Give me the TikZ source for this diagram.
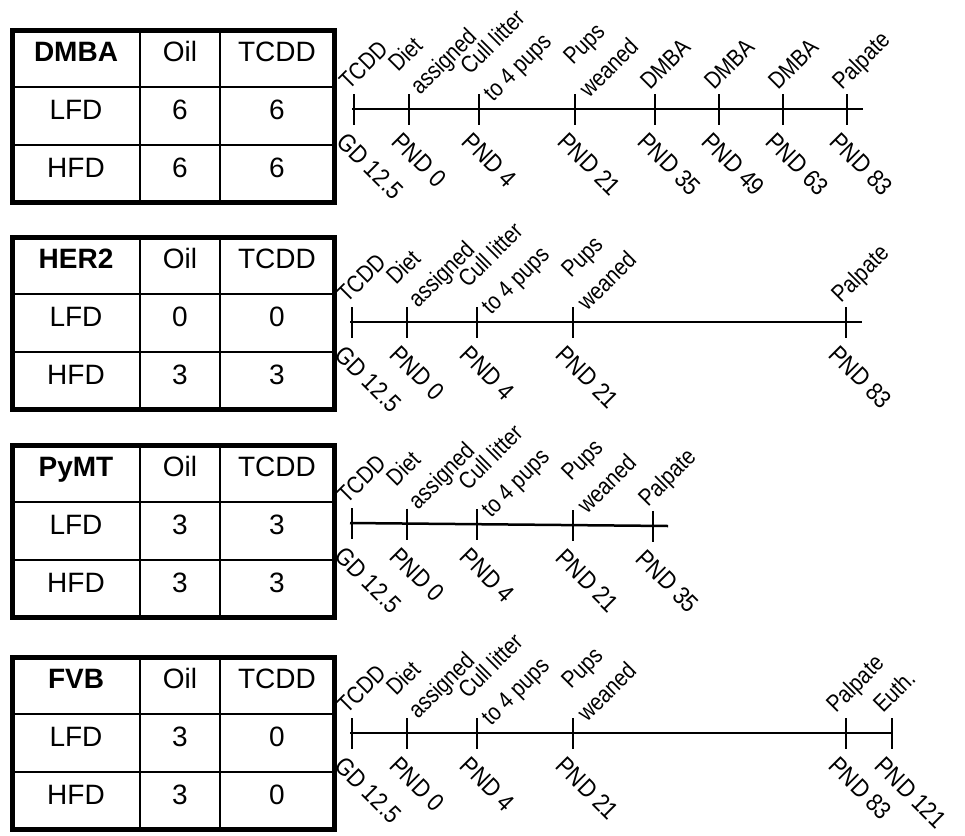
\documentclass[tikz,border=0pt]{standalone}
\usepackage{fontspec}
\setmainfont{Liberation Sans}
\newfontfamily\tabfont{Liberation Sans}
\newfontfamily\labfont{Liberation Sans}[FakeStretch=0.85]
\newfontfamily\dlabfont{Liberation Sans}[FakeStretch=0.87]
\tikzset{
  cell/.style={font=\tabfont\fontsize{28}{32}\selectfont, inner sep=0pt, text height=0.72em, text depth=0pt, anchor=center},
  hdr/.style={cell, font=\tabfont\fontsize{28}{32}\selectfont\bfseries},
  outerline/.style={line width=5pt},
  innerline/.style={line width=2pt},
  tl/.style={line width=2.5pt},
  uplab/.style={font=\labfont\fontsize{24}{28}\selectfont, rotate=45, anchor=base west, inner sep=0pt},
  dnlab/.style={font=\dlabfont\fontsize{25}{29}\selectfont, rotate=-45, anchor=north west, inner sep=0pt},
}
% table: prefix, top y, title, LFD oil, LFD tcdd, HFD oil, HFD tcdd
\newcommand{\stable}[7]{%
  \begin{scope}[shift={(0,#2)}]
    \draw[innerline] (140,0) -- (140,172) (220,0) -- (220,172)
                     (12,57) -- (334,57) (12,115) -- (334,115);
    \draw[outerline] (12,0) rectangle (334,172);
    \node[hdr] (#1-t) at (76,28) {#3};
    \node[cell] (#1-oil) at (180,28) {Oil};
    \node[cell] (#1-tcdd) at (277,28) {TCDD};
    \node[cell] (#1-lfd) at (76,86) {LFD};
    \node[cell] (#1-lo) at (180,86) {#4};
    \node[cell] (#1-lt) at (277,86) {#5};
    \node[cell] (#1-hfd) at (76,144) {HFD};
    \node[cell] (#1-ho) at (180,144) {#6};
    \node[cell] (#1-ht) at (277,144) {#7};
  \end{scope}}
% tick: name, x, y, below label
\newcommand{\stick}[4]{%
  \coordinate (#1) at (#2,#3);
  \draw[tl] ([yshift=15pt]#1) -- ([yshift=-16pt]#1);
  \node[dnlab] (#1-b) at ([xshift=-6pt,yshift=-22pt]#1) {#4};}
% single label above
\newcommand{\sone}[2]{\node[uplab] (#1-a) at ([xshift=-5pt,yshift=18pt]#1) {#2};}
% early labels for a panel
\newcommand{\searly}[1]{%
  \node[uplab] (#1a-a) at ([xshift=-5pt,yshift=18pt]#1a) {TCDD};
  \node[uplab] (#1b-a1) at ([xshift=-11pt,yshift=36pt]#1b) {Diet};
  \node[uplab] (#1b-a2) at ([xshift=11pt,yshift=13pt]#1b) {assigned};
  \node[uplab] (#1c-a1) at ([xshift=-9pt,yshift=33pt]#1c) {Cull litter};
  \node[uplab] (#1c-a2) at ([xshift=14pt,yshift=6pt]#1c) {to 4 pups};
  \node[uplab] (#1d-a1) at ([xshift=-2pt,yshift=43pt]#1d) {Pups};
  \node[uplab] (#1d-a2) at ([xshift=14pt,yshift=10pt]#1d) {weaned};}
\begin{document}
\begin{tikzpicture}[x=1pt,y=-1pt]
\useasboundingbox (0,0) rectangle (965,835);
\stable{A}{30}{DMBA}{6}{6}{6}{6}
\stable{B}{237}{HER2}{0}{0}{3}{3}
\stable{C}{445}{PyMT}{3}{3}{3}{3}
\stable{D}{657}{FVB}{3}{0}{3}{0}
% panel 1
\coordinate (Ls) at (352,109); \coordinate (Le) at (863,109);
\draw[tl] (Ls) -- (Le);
\stick{Aa}{354}{109}{GD 12.5}
\stick{Ab}{409}{109}{PND 0}
\stick{Ac}{479}{109}{PND 4}
\stick{Ad}{575}{109}{PND 21}
\stick{Ae}{655}{109}{PND 35}
\stick{Af}{719}{109}{PND 49}
\stick{Ag}{783}{109}{PND 63}
\stick{Ah}{847}{109}{PND 83}
\searly{A}
\sone{Ae}{DMBA}\sone{Af}{DMBA}\sone{Ag}{DMBA}\sone{Ah}{Palpate}
% panel 2
\coordinate (Ms) at (350,322); \coordinate (Me) at (862,322);
\draw[tl] (Ms) -- (Me);
\stick{Ba}{352}{322}{GD 12.5}
\stick{Bb}{407}{322}{PND 0}
\stick{Bc}{477}{322}{PND 4}
\stick{Bd}{573}{322}{PND 21}
\stick{Be}{846}{322}{PND 83}
\searly{B}
\sone{Be}{Palpate}
% panel 3
\coordinate (Ns) at (350,523); \coordinate (Ne) at (668,526);
\draw[tl] (Ns) -- (Ne);
\stick{Ca}{352}{523}{GD 12.5}
\stick{Cb}{407}{523.5}{PND 0}
\stick{Cc}{477}{524.2}{PND 4}
\stick{Cd}{573}{525.1}{PND 21}
\stick{Ce}{653}{525.9}{PND 35}
\searly{C}
\sone{Ce}{Palpate}
% panel 4
\coordinate (Os) at (350,733); \coordinate (Oe) at (892,733);
\draw[tl] (Os) -- (Oe);
\stick{Da}{352}{733}{GD 12.5}
\stick{Db}{407}{733}{PND 0}
\stick{Dc}{477}{733}{PND 4}
\stick{Dd}{573}{733}{PND 21}
\stick{De}{846}{733}{PND 83}
\stick{Df}{892}{733}{PND 121}
\searly{D}
\node[uplab] (De-a) at ([xshift=-10pt,yshift=19pt]De) {Palpate};
\node[uplab] (Df-a) at ([xshift=-9pt,yshift=19pt]Df) {Euth.};
\end{tikzpicture}
\end{document}
